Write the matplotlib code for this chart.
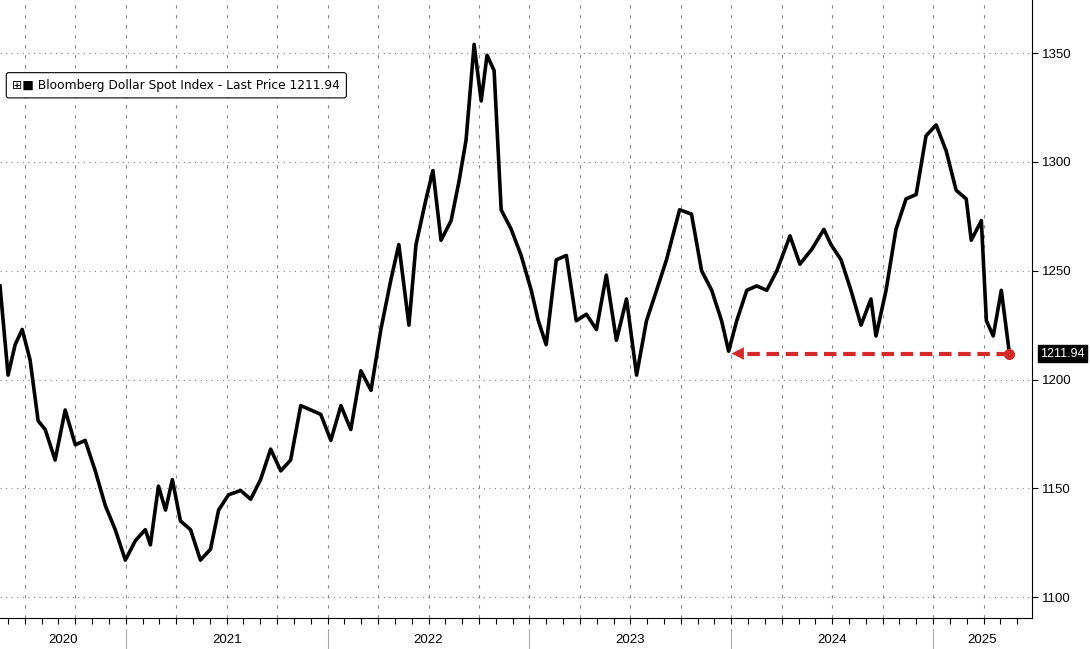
import numpy as np
import matplotlib.pyplot as plt

# fractional year, index level
dates = [2020.377, 2020.417, 2020.452, 2020.487, 2020.526, 2020.566, 2020.601, 2020.650,
         2020.700, 2020.750, 2020.799, 2020.849, 2020.899, 2020.948, 2020.998, 2021.048,
         2021.097, 2021.122, 2021.162, 2021.197, 2021.231, 2021.271, 2021.321, 2021.370,
         2021.420, 2021.460, 2021.509, 2021.569, 2021.619, 2021.668, 2021.718, 2021.768,
         2021.817, 2021.867, 2021.917, 2021.966, 2022.016, 2022.066, 2022.115, 2022.165,
         2022.215, 2022.264, 2022.314, 2022.353, 2022.403, 2022.438, 2022.488, 2022.522,
         2022.562, 2022.612, 2022.651, 2022.686, 2022.726, 2022.761, 2022.790, 2022.825,
         2022.860, 2022.910, 2022.959, 2023.009, 2023.044, 2023.083, 2023.133, 2023.183,
         2023.232, 2023.282, 2023.332, 2023.381, 2023.431, 2023.481, 2023.531, 2023.580,
         2023.630, 2023.679, 2023.744, 2023.803, 2023.853, 2023.903, 2023.952, 2023.987,
         2024.027, 2024.077, 2024.126, 2024.176, 2024.226, 2024.291, 2024.340, 2024.400,
         2024.459, 2024.494, 2024.544, 2024.593, 2024.643, 2024.692, 2024.717, 2024.767,
         2024.816, 2024.866, 2024.916, 2024.965, 2025.015, 2025.065, 2025.114, 2025.164,
         2025.189, 2025.239, 2025.264, 2025.298, 2025.338, 2025.378]
values = [1243, 1202, 1216, 1223, 1209, 1181, 1177, 1163,
          1186, 1170, 1172, 1158, 1142, 1131, 1117, 1126,
          1131, 1124, 1151, 1140, 1154, 1135, 1131, 1117,
          1122, 1140, 1147, 1149, 1145, 1154, 1168, 1158,
          1163, 1188, 1186, 1184, 1172, 1188, 1177, 1204,
          1195, 1223, 1246, 1262, 1225, 1262, 1283, 1296,
          1264, 1273, 1291, 1310, 1354, 1328, 1349, 1342,
          1278, 1269, 1257, 1241, 1227, 1216, 1255, 1257,
          1227, 1230, 1223, 1248, 1218, 1237, 1202, 1227,
          1241, 1255, 1278, 1276, 1250, 1241, 1227, 1213,
          1227, 1241, 1243, 1241, 1250, 1266, 1253, 1260,
          1269, 1262, 1255, 1241, 1225, 1237, 1220, 1241,
          1269, 1283, 1285, 1312, 1317, 1305, 1287, 1283,
          1264, 1273, 1227, 1220, 1241, 1212]
last_price = 1211.94
arrow_start = 2023.987
years = [2020, 2021, 2022, 2023, 2024, 2025]
yticks = [1100, 1150, 1200, 1250, 1300, 1350]

fig = plt.figure(figsize=(10.9, 6.49), dpi=100)
ax = fig.add_axes([0, 31 / 649, 1032 / 1090, 618 / 649])
x0, x1 = 2020.377, 2025.49
ax.set_xlim(x0, x1)
ax.set_ylim(1090.4, 1374.4)

ax.plot(dates, values, color="black", lw=2.6, solid_joinstyle="round", zorder=3)

# red dashed arrow back to the prior low
ax.plot([dates[-1], arrow_start + 0.04], [last_price, last_price], color="#d42a2a",
        lw=3, ls=(0, (3, 1.6)), zorder=4)
ax.annotate("", xy=(arrow_start, last_price), xytext=(arrow_start + 0.06, last_price),
            arrowprops=dict(arrowstyle="-|>,head_width=0.45,head_length=0.9",
                            color="#d42a2a", lw=0), zorder=5)
ax.plot([dates[-1]], [last_price], "o", color="#d42a2a", ms=7, zorder=6)

# grid
for y in yticks:
    ax.axhline(y, color="#888888", lw=0.8, ls=(0, (1, 4)), zorder=1)
for yr in range(2020, 2026):
    for q in range(4):
        xv = yr + q / 4
        if x0 < xv < x1:
            ax.axvline(xv, color="#888888", lw=0.8, ls=(0, (3, 6)), zorder=1)

ax.yaxis.tick_right()
ax.set_yticks(yticks)
ax.set_yticklabels([str(v) for v in yticks], fontsize=9.5, fontfamily="Liberation Sans")
ax.tick_params(axis="y", length=4, direction="out")
ax.set_xticks([m / 12 + yr for yr in range(2020, 2026) for m in range(12)
               if x0 < yr + m / 12 < x1])
ax.set_xticklabels([])
ax.tick_params(axis="x", length=4, direction="out")
for s in ["top", "left"]:
    ax.spines[s].set_visible(False)

# year labels and separators below the axis
for yr in years:
    a, b = max(yr, x0), min(yr + 1, x1)
    ax.text((a + b) / 2, -0.036, str(yr), transform=ax.get_xaxis_transform(),
            ha="center", va="center", fontsize=9.5, fontfamily="Liberation Sans")
    if yr > x0:
        ax.plot([yr, yr], [-0.018, -0.05], transform=ax.get_xaxis_transform(),
                color="#aaaaaa", lw=0.8, clip_on=False)

# last price tag
ax.annotate(f"{last_price:.2f}", xy=(1.0, last_price), xycoords=("axes fraction", "data"),
            xytext=(6, 0), textcoords="offset points", ha="left", va="center",
            fontsize=9, color="white", fontfamily="Liberation Sans",
            bbox=dict(boxstyle="square,pad=0.2", fc="black", ec="black"))

# legend box
ax.text(0.012, 0.862, "\u229e\u25a0 Bloomberg Dollar Spot Index - Last Price 1211.94",
        transform=ax.transAxes, fontsize=8.8, va="center", fontfamily="DejaVu Sans",
        bbox=dict(boxstyle="round,pad=0.5,rounding_size=0.2", fc="white", ec="black", lw=0.8))

fig.savefig("out.png", dpi=100)
